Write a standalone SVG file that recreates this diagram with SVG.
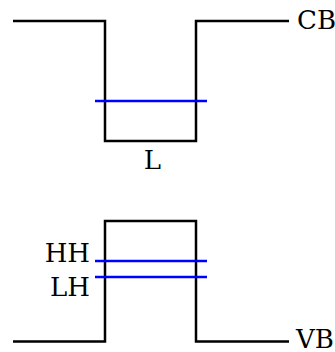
<svg xmlns="http://www.w3.org/2000/svg" width="335" height="352" viewBox="0 0 335 352">
<style>
.band{fill:none;stroke:#000;stroke-width:2.5;stroke-linejoin:miter}
.lvl{stroke:#0000ff;stroke-width:2.5}
text{font-family:"DejaVu Serif",serif;font-size:26px;fill:#000}
</style>
<rect width="335" height="352" fill="#fff"/>
<g id="connectors">
<path class="band" d="M13,21 H105 V141 H196 V21 H289"/>
<path class="band" d="M13,341.5 H105 V221 H196 V341.5 H289"/>
</g>
<g id="level-L"><line class="lvl" x1="95" y1="101" x2="207" y2="101"/><text x="152.5" y="169" text-anchor="middle">L</text></g>
<g id="level-HH"><line class="lvl" x1="95" y1="261" x2="207" y2="261"/><text x="90" y="262" text-anchor="end">HH</text></g>
<g id="level-LH"><line class="lvl" x1="95" y1="277" x2="207" y2="277"/><text x="90" y="296" text-anchor="end">LH</text></g>
<g id="label-CB"><text x="297" y="28.5">CB</text></g>
<g id="label-VB"><text x="296" y="348">VB</text></g>
</svg>
